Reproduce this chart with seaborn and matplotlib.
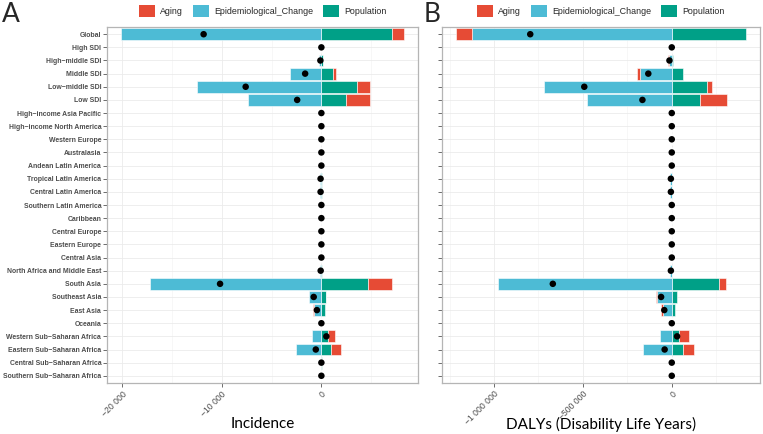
import numpy as np
import pandas as pd
import matplotlib
matplotlib.use("Agg")
import matplotlib.pyplot as plt
import seaborn as sns
from matplotlib.patches import Patch
from matplotlib.ticker import FuncFormatter, MultipleLocator

regions = ["Global", "High SDI", "High\u2212middle SDI", "Middle SDI", "Low\u2212middle SDI", "Low SDI",
           "High\u2212income Asia Pacific", "High\u2212income North America", "Western Europe", "Australasia",
           "Andean Latin America", "Tropical Latin America", "Central Latin America",
           "Southern Latin America", "Caribbean", "Central Europe", "Eastern Europe", "Central Asia",
           "North Africa and Middle East", "South Asia", "Southeast Asia", "East Asia", "Oceania",
           "Western Sub\u2212Saharan Africa", "Eastern Sub\u2212Saharan Africa",
           "Central Sub\u2212Saharan Africa", "Southern Sub\u2212Saharan Africa"]

# incidence decomposition
inc_aging = [1230, 0, 0, 300, 1370, 2400, 0, 0, 0, 0, 0, 0, 0, 0, 0, 0, 0, 0, 0,
             2330, 0, -100, 0, 770, 1000, 0, 0]
inc_epi = [-20100, 0, -250, -3100, -12500, -7330, 0, 0, 0, 0, 0, -100, -100, 0, 0, 0, 0, 0, -100,
           -17230, -1270, -750, 0, -900, -2530, -20, 0]
inc_pop = [7050, 0, 150, 1170, 3530, 2500, 0, 0, 0, 0, 0, 20, 20, 0, 0, 0, 0, 0, 30,
           4730, 500, 400, 0, 630, 970, 20, 0]

# DALYs decomposition
daly_aging = [-88000, 0, -5000, -19000, 26000, 148000, 0, 0, 0, 0, 0, 0, 0, 0, 0, 0, 0, 0, 0,
              41000, -4000, -13000, 0, 52000, 62000, 0, 0]
daly_epi = [-1123000, 0, -15000, -177000, -718000, -474000, 0, 0, 0, 0, 0, -8000, -8000, 0, 0, 0, 0, 0, -8000,
            -976000, -84000, -50000, 0, -65000, -164000, -1000, 0]
daly_pop = [415000, 0, 7000, 64000, 200000, 161000, 0, 0, 0, 0, 0, 3000, 3000, 0, 0, 0, 0, 0, 3000,
            266000, 28000, 21000, 0, 43000, 62000, 1000, 0]

components = ["Aging", "Epidemiological_Change", "Population"]
colors = {"Aging": "#E64B35", "Epidemiological_Change": "#4DBBD5", "Population": "#00A087"}

sns.set_theme(style="whitegrid")
plt.rcParams["font.family"] = ["Liberation Sans", "DejaVu Sans"]

fig = plt.figure(figsize=(7.63, 4.34), dpi=100)
axA = fig.add_axes([107 / 763, 1 - 383 / 434, 311 / 763, 356 / 434])
axB = fig.add_axes([442 / 763, 1 - 383 / 434, 318 / 763, 356 / 434])


def draw(ax, aging, epi, pop, major, xlabel, show_labels):
    df = pd.DataFrame({"region": regions, "Aging": aging,
                       "Epidemiological_Change": epi, "Population": pop})
    y = np.arange(len(regions))
    pos = np.zeros(len(regions))
    neg = np.zeros(len(regions))
    # stack outward from zero: Population, Epi, Aging
    for comp in ["Population", "Epidemiological_Change", "Aging"]:
        v = df[comp].to_numpy(dtype=float)
        left = np.where(v >= 0, pos, neg)
        ax.barh(y, v, left=left, height=0.9, color=colors[comp],
                edgecolor="white", linewidth=0.4, zorder=2)
        pos = pos + np.where(v >= 0, v, 0)
        neg = neg + np.where(v < 0, v, 0)
    df["total"] = df[components].sum(axis=1)
    sns.scatterplot(x=df["total"], y=y, ax=ax, color="black", s=22,
                    edgecolor="none", zorder=3, legend=False)

    lo, hi = neg.min(), pos.max()
    pad = (hi - lo) * 0.05
    ax.set_xlim(lo - pad, hi + pad)
    ax.set_ylim(len(regions) - 0.45, -0.55)
    ax.set_yticks(y)
    if show_labels:
        ax.set_yticklabels(regions, fontsize=4.95, fontweight="bold", color="#4D4D4D")
    else:
        ax.set_yticklabels([])
    ax.xaxis.set_major_locator(MultipleLocator(major))
    ax.xaxis.set_minor_locator(MultipleLocator(major / 2))
    ax.xaxis.set_major_formatter(FuncFormatter(
        lambda v, p: "{:,.0f}".format(v).replace(",", " ").replace("-", "\u2212")))
    for lab in ax.get_xticklabels():
        lab.set_rotation(45)
        lab.set_ha("right")
        lab.set_va("top")
        lab.set_rotation_mode("anchor")
    ax.tick_params(axis="x", which="major", labelsize=6.2, labelcolor="#4D4D4D",
                   length=3, width=0.5, color="#333333", bottom=True, pad=1.5)
    ax.tick_params(axis="x", which="minor", length=0, bottom=False)
    ax.tick_params(axis="y", length=3, width=0.5, color="#333333", left=True, pad=1.2)
    ax.grid(True, which="major", color="#EBEBEB", linewidth=0.6)
    ax.grid(True, which="minor", axis="x", color="#F2F2F2", linewidth=0.4)
    ax.set_axisbelow(True)
    for s in ax.spines.values():
        s.set_color("#B5B5B5")
        s.set_linewidth(0.9)
    ax.set_xlabel(xlabel, fontsize=11, family=["Lato", "DejaVu Sans"],
                  color="black", va="center")
    ax.xaxis.set_label_coords(0.5, -41 / 356)
    ax.set_ylabel("")
    handles = [Patch(facecolor=colors[c], edgecolor="none") for c in components]
    ax.legend(handles, components, loc="center", bbox_to_anchor=(0.5, 1 + 16 / 356),
              ncol=3, frameon=False, fontsize=6.4, handlelength=1.8, handleheight=1.7,
              handletextpad=0.6, columnspacing=1.1, borderaxespad=0)


draw(axA, inc_aging, inc_epi, inc_pop, 10000, "Incidence", True)
draw(axB, daly_aging, daly_epi, daly_pop, 500000, "DALYs (Disability Life Years)", False)

fig.text(2 / 763, 1 - 15 / 434, "A", fontsize=19, family=["Lato", "DejaVu Sans"],
         va="center", ha="left")
fig.text(424 / 763, 1 - 15 / 434, "B", fontsize=19, family=["Lato", "DejaVu Sans"],
         va="center", ha="left")

fig.savefig("out.png", dpi=100)
